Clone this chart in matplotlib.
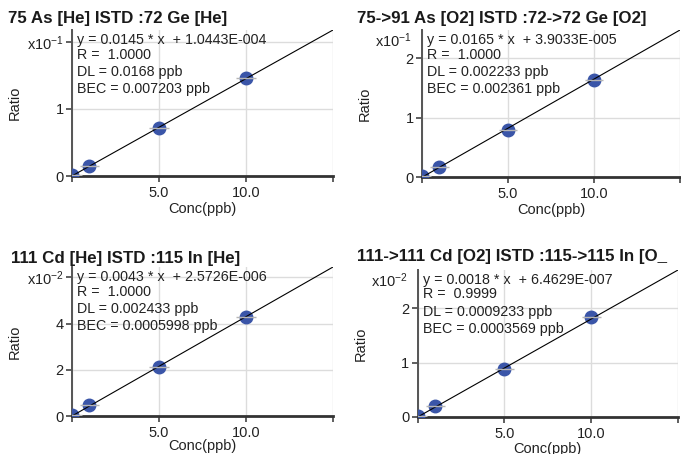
import numpy as np
import matplotlib
matplotlib.use("Agg")
import matplotlib.pyplot as plt

plt.rcParams['font.family'] = ['Liberation Sans', 'DejaVu Sans']
plt.rcParams['mathtext.fontset'] = 'custom'
plt.rcParams['mathtext.rm'] = 'Liberation Sans'
plt.rcParams['mathtext.it'] = 'Liberation Sans'

# ============================================================
# DATA
# ============================================================

titles = [
    "75 As [He] ISTD :72 Ge [He]",
    "75->91 As [O2] ISTD :72->72 Ge [O2]",
    "111 Cd [He] ISTD :115 In [He]",
    "111->111 Cd [O2] ISTD :115->115 In [O_",
]

conc = [0, 1, 5, 10]

# ratios in units of 10^exponent
ratio_as_he = [0.02, 0.15, 0.71, 1.46]
ratio_as_o2 = [0.02, 0.18, 0.80, 1.64]
ratio_cd_he = [0.06, 0.48, 2.12, 4.27]
ratio_cd_o2 = [0.02, 0.20, 0.88, 1.83]
ratios = [ratio_as_he, ratio_as_o2, ratio_cd_he, ratio_cd_o2]

slopes = [0.0145, 0.0165, 0.0043, 0.0018]
intercepts = [1.0443e-4, 3.9033e-5, 2.5726e-6, 6.4629e-7]
intercept_txt = ["1.0443E-004", "3.9033E-005", "2.5726E-006", "6.4629E-007"]
exponents = [-1, -1, -2, -2]
r_vals = ["1.0000", "1.0000", "1.0000", "0.9999"]
dl_vals = ["0.0168", "0.002233", "0.002433", "0.0009233"]
bec_vals = ["0.007203", "0.002361", "0.0005998", "0.0003569"]

yticks = [[0, 1, 2], [0, 1, 2], [0, 2, 4, 6], [0, 1, 2]]
# does the top tick carry the scale label?
scale_on_tick = [True, False, True, False]

x_max = 15
xticks = [0, 5, 10, 15]
xtick_labels = ["", "5.0", "10.0", ""]

# ============================================================
# LAYOUT (pixels)
# ============================================================

W, H = 681, 454
axes_px = [  # left, right, bottom, top
    (72, 333, 176, 30),
    (422, 680, 177.3, 30),
    (72, 333, 416, 267),
    (417.7, 678, 417, 270),
]
title_px = [(8, 18), (357, 18), (11, 258.5), (357, 257)]
xlabel_y = [-0.225, -0.22, -0.2, -0.215]

blue = "#3a55a8"
dark = "#222222"

fig = plt.figure(figsize=(W / 100, H / 100), dpi=100)

for i in range(4):
    l, r, b, t = axes_px[i]
    ax = fig.add_axes([l / W, 1 - b / H, (r - l) / W, (b - t) / H])

    scale = 10.0 ** exponents[i]
    m = slopes[i] / scale
    c = intercepts[i] / scale
    ytop = m * x_max + c

    xs = np.array([0, x_max])
    ax.plot(xs, m * xs + c, color="black", lw=0.8, zorder=4)
    ax.plot(conc, ratios[i], "o", color=blue, ms=9, mec=blue, zorder=3)
    cx = np.array(conc, dtype=float)
    ax.hlines(ratios[i], cx - 0.55, cx + 0.55, color="#b5b5b5", lw=1.0, zorder=5)

    ax.set_xlim(0, x_max)
    ax.set_ylim(0, ytop)

    ax.set_xticks(xticks)
    ax.set_xticklabels(xtick_labels)
    ax.set_yticks(yticks[i])
    labels = [str(v) for v in yticks[i]]
    exp_lbl = r"x10$^{%d}$" % exponents[i]
    if scale_on_tick[i]:
        labels[-1] = exp_lbl
    ax.set_yticklabels(labels)
    if not scale_on_tick[i]:
        ax.annotate(exp_lbl, xy=(0, 1), xycoords="axes fraction",
                    xytext=(-10, -11), textcoords="offset pixels",
                    ha="right", va="center", fontsize=10.5, color=dark)

    ax.grid(True, color="#dcdcdc", lw=1.0)
    ax.set_axisbelow(True)
    for s in ["top", "right"]:
        ax.spines[s].set_visible(False)
    ax.spines["left"].set_color("#555555")
    ax.spines["left"].set_linewidth(1.4)
    ax.spines["bottom"].set_color("#333333")
    ax.spines["bottom"].set_linewidth(2.0)
    ax.tick_params(axis="both", length=4, width=1.2, color="#444444",
                   labelsize=10.5, labelcolor=dark, pad=2)
    ax.tick_params(axis="x", pad=3)

    ax.set_xlabel("Conc(ppb)", fontsize=10.5, color=dark)
    ax.xaxis.set_label_coords(0.5, xlabel_y[i])
    ax.xaxis.label.set_va("center")
    ax.set_ylabel("Ratio", fontsize=10.5, color=dark)
    ax.yaxis.set_label_coords(-0.22, 0.5)
    ax.yaxis.label.set_va("center")

    lines = [
        "y = %.4f * x  + %s" % (slopes[i], intercept_txt[i]),
        "R =  %s" % r_vals[i],
        "DL = %s ppb" % dl_vals[i],
        "BEC = %s ppb" % bec_vals[i],
    ]
    offsets = [0, 14.5, 32, 49]
    for txt, off in zip(lines, offsets):
        ax.annotate(txt, xy=(0, 1), xycoords="axes fraction",
                    xytext=(5, -10 - off), textcoords="offset pixels",
                    ha="left", va="center", fontsize=10.3, color=dark)

    tx, ty = title_px[i]
    fig.text(tx / W, 1 - ty / H, titles[i], fontsize=12.2, fontweight="bold",
             color="#1a1a1a", ha="left", va="center")

fig.savefig("out.png", dpi=100)
